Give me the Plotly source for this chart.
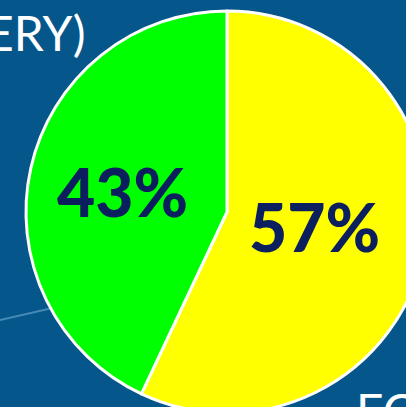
import plotly.graph_objects as go

labels = ["Yellow", "Green"]
values = [57, 43]
slice_colors = ["#FFFF00", "#00FF00"]
text_labels = ["57%", "43%"]

BG = "#05568A"
W, H = 460, 440
cx, cy, r = 227, 212, 201

fig = go.Figure(go.Pie(
    labels=labels,
    values=values,
    textinfo="none",
    sort=False,
    direction="clockwise",
    rotation=0,
    marker=dict(colors=slice_colors, line=dict(color="white", width=3)),
    domain=dict(x=[(cx - r) / W, (cx + r) / W], y=[1 - (cy + r) / H, 1 - (cy - r) / H]),
    showlegend=False,
    hoverinfo="skip",
))

# percentage labels placed over each slice
label_pos = [(314, 226), (122, 191)]
for t, (px, py) in zip(text_labels, label_pos):
    fig.add_annotation(text=t, xref="paper", yref="paper", x=px / W, y=1 - py / H,
                       xanchor="center", yanchor="middle", showarrow=False,
                       font=dict(family="Lato", size=66, color="#0B1F5E", weight=900))

fig.add_shape(type="line", xref="paper", yref="paper", layer="below",
              x0=0, y0=1 - 320 / H, x1=70 / W, y1=1 - 304 / H,
              line=dict(color="rgba(120,180,220,0.55)", width=2))

fig.add_annotation(text="ERY)", xref="paper", yref="paper", x=88 / W, y=1 - 2 / H,
                   xanchor="right", yanchor="top", showarrow=False,
                   font=dict(family="Lato", size=48, color="white"))
fig.add_annotation(text="FO", xref="paper", yref="paper", x=354 / W, y=1 - 380 / H,
                   xanchor="left", yanchor="top", showarrow=False,
                   font=dict(family="Lato", size=48, color="white"))

fig.update_layout(
    width=W, height=H,
    margin=dict(l=0, r=0, t=0, b=0),
    paper_bgcolor=BG, plot_bgcolor=BG,
)

fig.write_html("out.html", post_script="document.body.style.margin='0';document.body.style.overflow='hidden';")
